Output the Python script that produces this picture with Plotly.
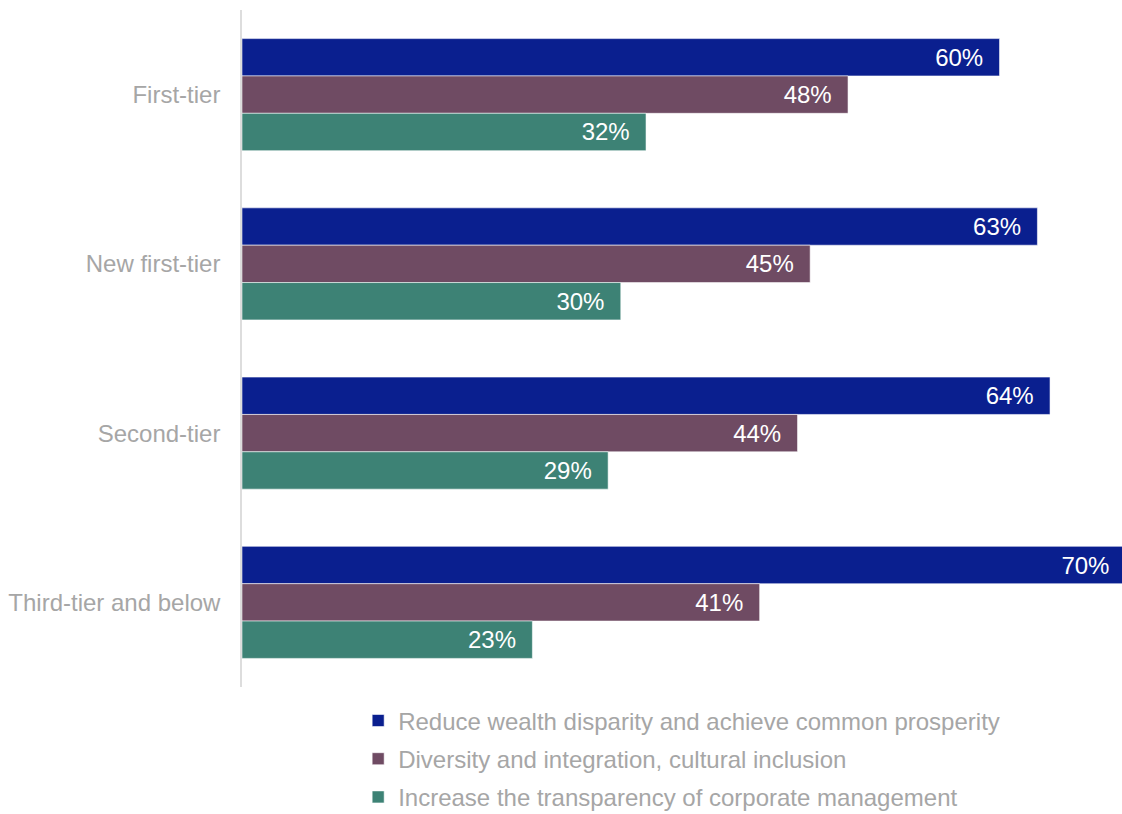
import plotly.graph_objects as go

# Survey responses by city tier (percent of respondents)
tiers = ["First-tier", "New first-tier", "Second-tier", "Third-tier and below"]
series_names = [
    "Reduce wealth disparity and achieve common prosperity",
    "Diversity and integration, cultural inclusion",
    "Increase the transparency of corporate management",
]
wealth_disparity = [60, 63, 64, 70]
diversity_inclusion = [48, 45, 44, 41]
transparency = [32, 30, 29, 23]
series_colors = ["#0A1F8F", "#6F4B63", "#3D8275"]

fig = go.Figure()
for name, values, color in zip(
    series_names, [wealth_disparity, diversity_inclusion, transparency], series_colors
):
    fig.add_trace(
        go.Bar(
            y=tiers,
            x=values,
            name=name,
            orientation="h",
            marker=dict(color=color, line=dict(color="rgba(255,255,255,0.55)", width=1)),
            text=[f"{v}%\u00a0\u00a0" for v in values],
            textposition="inside",
            insidetextanchor="end",
            textangle=0,
            textfont=dict(family="Liberation Sans, Arial, sans-serif", size=24, color="white"),
            hoverinfo="skip",
            legendgroup=name,
        )
    )

fig.update_layout(
    width=1122,
    height=814,
    barmode="group",
    bargap=0.338,
    bargroupgap=0,
    plot_bgcolor="white",
    paper_bgcolor="white",
    margin=dict(l=242, r=0, t=10, b=127, autoexpand=False),
    font=dict(family="Liberation Sans, Arial, sans-serif", size=24, color="#A6A6A6"),
    showlegend=True,
    legend=dict(
        orientation="v",
        x=0.132,
        xanchor="left",
        yref="container",
        y=0.142,
        yanchor="top",
        traceorder="grouped",
        tracegroupgap=4,
        font=dict(size=24, color="#A6A6A6"),
        bgcolor="rgba(0,0,0,0)",
    ),
    xaxis=dict(
        range=[0, 69.7],
        visible=False,
        showgrid=False,
        zeroline=False,
    ),
    yaxis=dict(
        autorange="reversed",
        showline=True,
        linecolor="#DDDDDD",
        linewidth=1.5,
        showgrid=False,
        ticks="outside",
        ticklen=15,
        tickcolor="rgba(0,0,0,0)",
        tickfont=dict(size=24, color="#A6A6A6"),
    ),
)

fig.write_html("out.html")
